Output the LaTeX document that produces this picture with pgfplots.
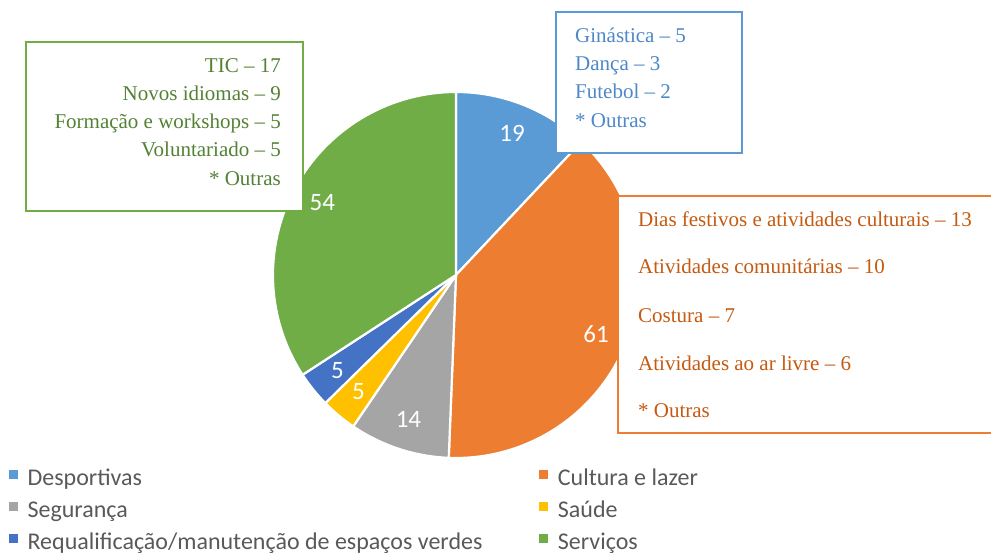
\documentclass[border=0pt]{standalone}
\usepackage{pgfplots}
\pgfplotsset{compat=1.18}
\usepackage{pgfplotstable}
\usepackage{fontspec}
\setmainfont{Carlito}
\newfontfamily\serifb{Liberation Serif}
\definecolor{cDesp}{HTML}{5B9BD5}
\definecolor{cCult}{HTML}{ED7D31}
\definecolor{cSeg}{HTML}{A5A5A5}
\definecolor{cSau}{HTML}{FFC000}
\definecolor{cReq}{HTML}{4472C4}
\definecolor{cServ}{HTML}{70AD47}
\definecolor{tBlue}{HTML}{4F88C6}
\definecolor{tOrange}{HTML}{C55A11}
\definecolor{tGreen}{HTML}{548235}
\definecolor{legtext}{HTML}{595959}

\pgfplotstableread[col sep=comma]{
name,value,col
Desportivas,19,cDesp
Cultura e lazer,61,cCult
Segurança,14,cSeg
Saúde,5,cSau
Requalificação/manutenção de espaços verdes,5,cReq
Serviços,54,cServ
}\piedata

\tikzset{
  pielabel/.style={text=white, font=\fontsize{25bp}{27bp}\selectfont, inner sep=0pt},
  boxtext/.style={font=\fontsize{21bp}{24bp}\serifb, inner sep=0pt},
}

\begin{document}
\begin{tikzpicture}
\path[use as bounding box] (0,0) rectangle (991bp,556bp);
\begin{axis}[
  at={(0,0)}, anchor=south west,
  x=1bp, y=1bp,
  xmin=0, xmax=991, ymin=0, ymax=556,
  hide axis, clip=false,
  legend columns=2,
  legend cell align=left,
  legend image code/.code={\fill[#1] (0bp,2bp) rectangle (8bp,10bp);},
  legend style={
    at={(axis cs:9,88)}, anchor=north west,
    draw=none, fill=none, inner sep=0pt,
    font=\fontsize{24bp}{27bp}\selectfont, text=legtext,
    row sep=9bp,
    nodes={inner sep=0bp, text height=17bp, text depth=6bp},
    /tikz/every odd column/.append style={column sep=10bp},
    /tikz/every even column/.append style={column sep=57bp},
  },
]
\pgfmathsetmacro{\pietotal}{0}
\pgfplotsforeachungrouped \i in {0,...,5}{%
  \pgfplotstablegetelem{\i}{value}\of\piedata
  \pgfmathsetmacro{\pietotal}{\pietotal+\pgfplotsretval}%
}
\def\piecum{0}
\pgfplotsforeachungrouped \i in {0,...,5}{%
  \pgfplotstablegetelem{\i}{value}\of\piedata \let\sval\pgfplotsretval
  \pgfplotstablegetelem{\i}{col}\of\piedata \let\scol\pgfplotsretval
  \pgfplotstablegetelem{\i}{name}\of\piedata \let\sname\pgfplotsretval
  \pgfmathsetmacro{\sa}{90-(\piecum/\pietotal)*360}%
  \pgfmathsetmacro{\sb}{90-((\piecum+\sval)/\pietotal)*360}%
  \pgfmathsetmacro{\sm}{(\sa+\sb)/2}%
  \pgfmathsetmacro{\sx}{456+183*cos(\sa)}%
  \pgfmathsetmacro{\sy}{281+183*sin(\sa)}%
  \pgfmathsetmacro{\lx}{456+152*cos(\sm)}%
  \pgfmathsetmacro{\ly}{281+152*sin(\sm)}%
  \edef\temp{%
    \noexpand\fill[\scol,draw=white,line width=2.2bp,line join=round] (axis cs:456,281) -- (axis cs:\sx,\sy) arc[start angle=\sa,end angle=\sb,radius=183bp] -- cycle;
    \noexpand\node[pielabel] at (axis cs:\lx,\ly) {\sval};
    \noexpand\addlegendimage{\scol}
    \noexpand\addlegendentry{\sname}
  }%
  \temp
  \pgfmathsetmacro{\piecum}{\piecum+\sval}%
}
% annotation boxes
\draw[cDesp, fill=white, line width=1.3bp] (axis cs:556,544) rectangle (axis cs:742,403);
\node[boxtext, text=tBlue, anchor=base west] at (axis cs:575,513) {Ginástica – 5};
\node[boxtext, text=tBlue, anchor=base west] at (axis cs:575,485) {Dança – 3};
\node[boxtext, text=tBlue, anchor=base west] at (axis cs:575,457) {Futebol – 2};
\node[boxtext, text=tBlue, anchor=base west] at (axis cs:575,428) {* Outras};

\draw[cCult, fill=white, line width=1.3bp] (axis cs:618,360) rectangle (axis cs:995,123);
\node[boxtext, text=tOrange, anchor=base west] at (axis cs:638,330) {Dias festivos e atividades culturais – 13};
\node[boxtext, text=tOrange, anchor=base west] at (axis cs:638,283) {Atividades comunitárias – 10};
\node[boxtext, text=tOrange, anchor=base west] at (axis cs:638,234) {Costura – 7};
\node[boxtext, text=tOrange, anchor=base west] at (axis cs:638,186) {Atividades ao ar livre – 6};
\node[boxtext, text=tOrange, anchor=base west] at (axis cs:638,139) {* Outras};

\draw[cServ, fill=white, line width=1.3bp] (axis cs:26,514) rectangle (axis cs:303,345);
\node[boxtext, text=tGreen, anchor=base east] at (axis cs:281,483) {TIC – 17};
\node[boxtext, text=tGreen, anchor=base east] at (axis cs:281,455) {Novos idiomas – 9};
\node[boxtext, text=tGreen, anchor=base east] at (axis cs:281,427) {Formação e workshops – 5};
\node[boxtext, text=tGreen, anchor=base east] at (axis cs:281,399) {Voluntariado – 5};
\node[boxtext, text=tGreen, anchor=base east] at (axis cs:281,371) {* Outras};
\end{axis}
\end{tikzpicture}
\end{document}
